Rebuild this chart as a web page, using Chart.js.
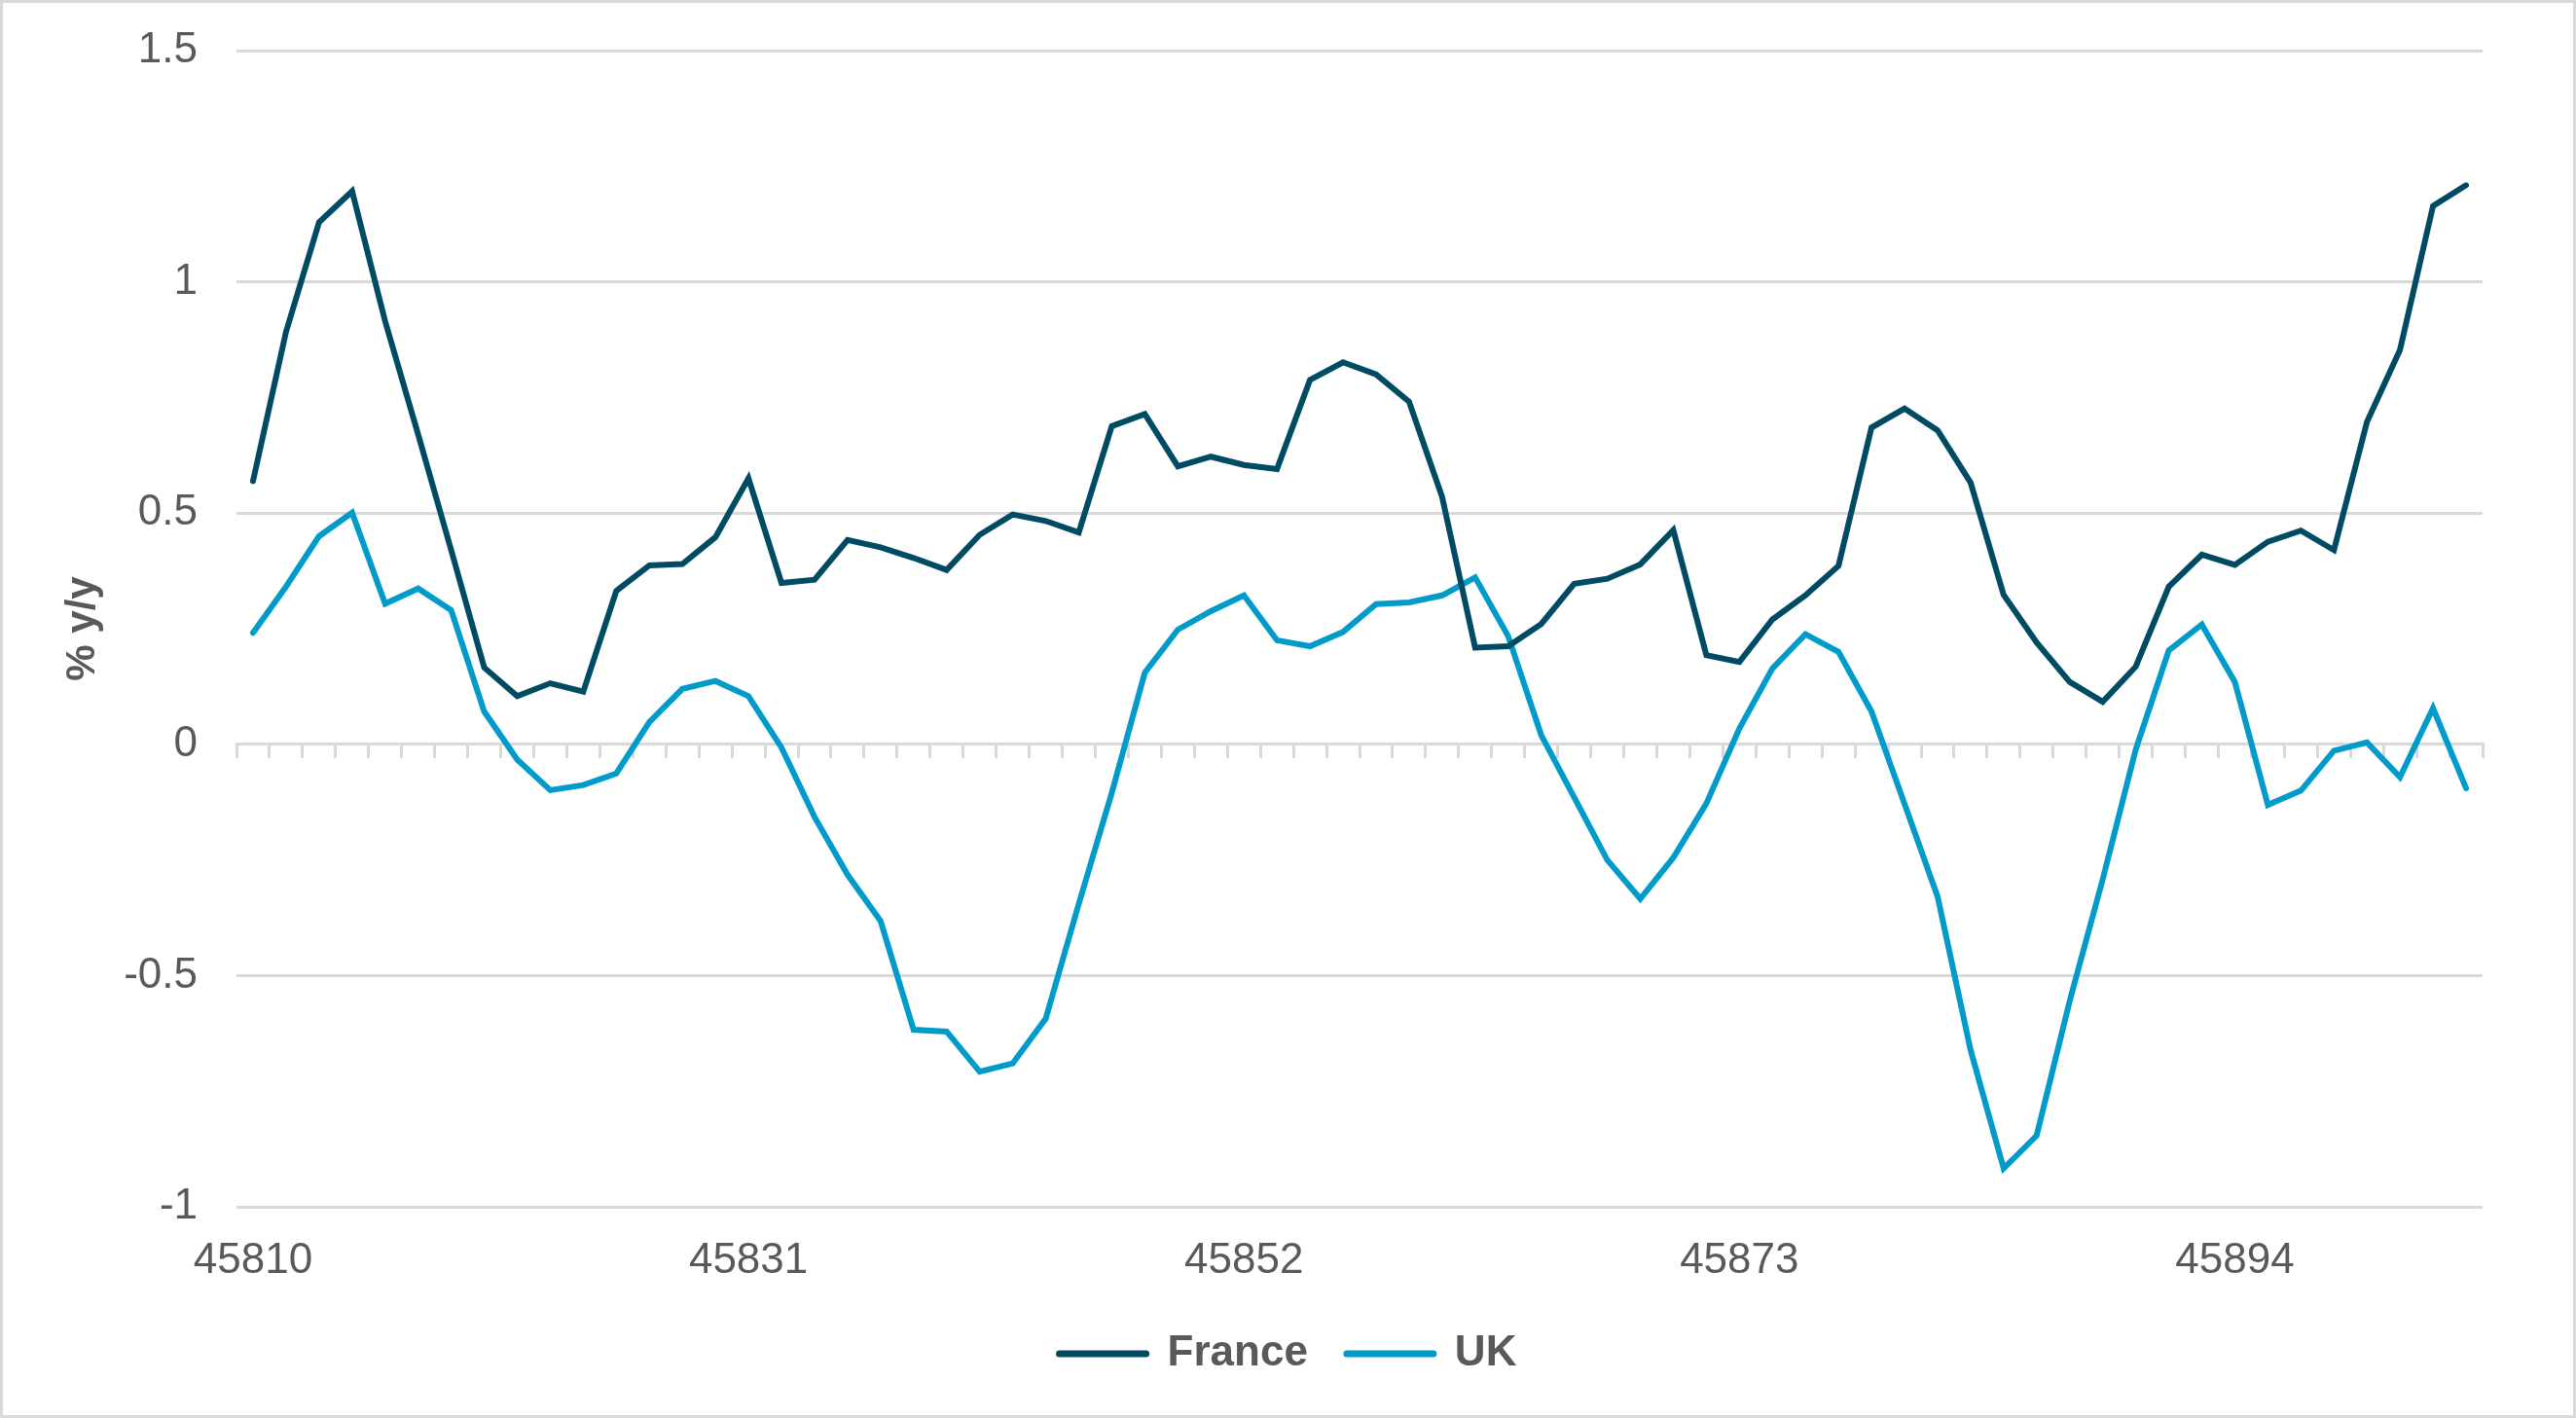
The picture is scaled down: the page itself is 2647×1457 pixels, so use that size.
<!DOCTYPE html>
<html>
<head>
    <title>France vs UK, % y/y</title>
    <script src="https://cdn.jsdelivr.net/npm/chart.js"></script>
    <style>
        html, body { margin: 0; padding: 0; background: #fff; }
        #wrap { position: relative; width: 2647px; height: 1457px; }
        #frame { position: absolute; left: 0; top: 0; width: 2647px; height: 1457px; box-sizing: border-box; border: 3px solid #d9d9d9; pointer-events: none; }
        #chart { position: absolute; left: 0; top: 0; }
    </style>
</head>
<body>
    <div id="wrap">
        <canvas id="chart" width="2647" height="1457"></canvas>
        <div id="frame"></div>
    </div>
    <script>
        // business days as Excel date serials
        var dates = [
            45810, 45811, 45812, 45813, 45814,
            45817, 45818, 45819, 45820, 45821,
            45824, 45825, 45826, 45827, 45828,
            45831, 45832, 45833, 45834, 45835,
            45838, 45839, 45840, 45841, 45842,
            45845, 45846, 45847, 45848, 45849,
            45852, 45853, 45854, 45855, 45856,
            45859, 45860, 45861, 45862, 45863,
            45866, 45867, 45868, 45869, 45870,
            45873, 45874, 45875, 45876, 45877,
            45880, 45881, 45882, 45883, 45884,
            45887, 45888, 45889, 45890, 45891,
            45894, 45895, 45896, 45897, 45898,
            45901, 45902, 45903
        ];

        var france = [
            0.569, 0.892, 1.129, 1.196, 0.915, 0.67, 0.42, 0.166, 0.104, 0.132,
            0.114, 0.332, 0.387, 0.39, 0.448, 0.575, 0.349, 0.356, 0.442, 0.426,
            0.403, 0.377, 0.453, 0.497, 0.483, 0.458, 0.688, 0.714, 0.601, 0.622,
            0.604, 0.595, 0.788, 0.826, 0.8, 0.741, 0.535, 0.209, 0.212, 0.26,
            0.347, 0.358, 0.389, 0.463, 0.193, 0.178, 0.27, 0.322, 0.386, 0.685,
            0.726, 0.679, 0.566, 0.323, 0.22, 0.135, 0.092, 0.168, 0.341, 0.41,
            0.388, 0.438, 0.462, 0.42, 0.697, 0.853, 1.164, 1.209
        ];

        var uk = [
            0.241, 0.341, 0.45, 0.501, 0.304, 0.337, 0.29, 0.071, -0.033, -0.099,
            -0.088, -0.063, 0.048, 0.12, 0.137, 0.104, -0.007, -0.157, -0.282, -0.382,
            -0.617, -0.621, -0.708, -0.69, -0.593, -0.345, -0.105, 0.155, 0.248, 0.288,
            0.322, 0.225, 0.212, 0.243, 0.303, 0.307, 0.322, 0.361, 0.234, 0.02,
            -0.115, -0.25, -0.334, -0.245, -0.128, 0.034, 0.164, 0.238, 0.2, 0.071,
            -0.129, -0.329, -0.661, -0.917, -0.846, -0.555, -0.292, -0.011, 0.203, 0.259,
            0.135, -0.131, -0.1, -0.014, 0.004, -0.071, 0.078, -0.095
        ];

        var seriesNames = ['France', 'UK'];
        var seriesColors = ['#004b64', '#009bcb'];
        var yMin = -1, yMax = 1.5, yStep = 0.5;
        var labelEvery = 15;   // one date label every 3 weeks

        var textColor = '#595959';
        var gridColor = '#d9d9d9';
        var fontFamily = "'Liberation Sans', Arial, sans-serif";

        var ctx = document.getElementById('chart').getContext('2d');
        var chart = new Chart(ctx, {
            type: 'line',
            data: {
                labels: dates,
                datasets: [
                    { label: seriesNames[0], data: france, borderColor: seriesColors[0], backgroundColor: seriesColors[0] },
                    { label: seriesNames[1], data: uk, borderColor: seriesColors[1], backgroundColor: seriesColors[1] }
                ]
            },
            options: {
                responsive: false,
                devicePixelRatio: 1,
                animation: false,
                layout: { padding: { left: 0, top: 52, right: 0, bottom: 34 } },
                elements: {
                    line: { borderWidth: 6, tension: 0, borderCapStyle: 'round', borderJoinStyle: 'miter' },
                    point: { radius: 0, hoverRadius: 0 }
                },
                scales: {
                    // axis line with tick marks, sitting on y = 0
                    x: {
                        type: 'category',
                        position: { y: 0 },
                        offset: true,
                        ticks: { display: false },
                        grid: { drawOnChartArea: false, drawTicks: true, tickLength: 13, color: gridColor, lineWidth: 3, offset: true },
                        border: { display: true, color: gridColor, width: 3 }
                    },
                    // date labels along the bottom
                    x2: {
                        type: 'category',
                        position: 'bottom',
                        offset: true,
                        grid: { display: false, drawTicks: false },
                        border: { display: false },
                        ticks: {
                            autoSkip: false,
                            maxRotation: 0,
                            padding: 29,
                            color: textColor,
                            font: { family: fontFamily, size: 44 },
                            callback: function (value, index) {
                                return index % labelEvery === 0 ? dates[index] : '';
                            }
                        },
                        afterFit: function (scale) { scale.height = 89; }
                    },
                    y: {
                        min: yMin,
                        max: yMax,
                        ticks: {
                            stepSize: yStep,
                            padding: 0,
                            color: textColor,
                            font: { family: fontFamily, size: 44 },
                            callback: function (value) { return String(value); }
                        },
                        // invisible tick marks give the gap between labels and plot
                        grid: { color: gridColor, lineWidth: 3, drawTicks: true, tickLength: 40, tickColor: 'rgba(0,0,0,0)' },
                        border: { display: false },
                        title: {
                            display: true,
                            text: '% y/y',
                            color: textColor,
                            font: { family: fontFamily, size: 42, weight: 'bold' },
                            padding: { top: 60, bottom: 0 }
                        },
                        afterFit: function (scale) { scale.width = 243; }
                    },
                    // empty right margin so the legend centres on the whole chart
                    yRight: {
                        position: 'right',
                        grid: { display: false, drawTicks: false },
                        border: { display: false },
                        ticks: { display: false },
                        afterFit: function (scale) { scale.width = 96; }
                    }
                },
                plugins: {
                    tooltip: { enabled: false },
                    legend: {
                        position: 'bottom',
                        labels: {
                            usePointStyle: true,
                            pointStyle: 'line',
                            pointStyleWidth: 89,
                            padding: 40,
                            color: textColor,
                            font: { family: fontFamily, size: 44, weight: 'bold' },
                            generateLabels: function (c) {
                                var items = Chart.defaults.plugins.legend.labels.generateLabels(c);
                                items.forEach(function (it) { it.lineWidth = 7; it.lineCap = 'round'; });
                                return items;
                            }
                        }
                    }
                }
            }
        });
    </script>
</body>
</html>
